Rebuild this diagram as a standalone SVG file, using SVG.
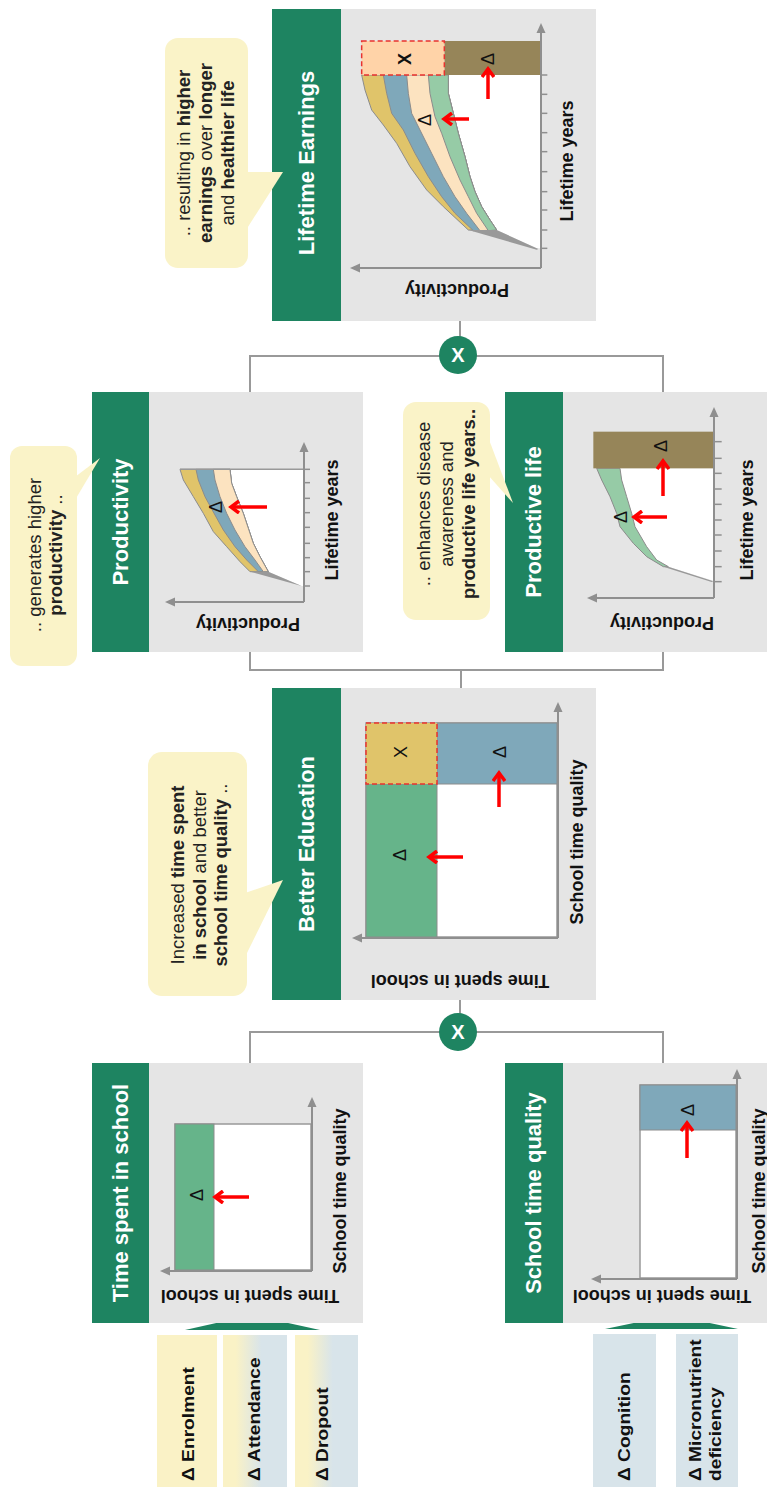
<svg xmlns="http://www.w3.org/2000/svg" width="767" height="1487" viewBox="0 0 767 1487">
<defs>
<style>
text{font-family:"Liberation Sans",Arial,sans-serif;}
.title{font-size:22px;font-weight:bold;fill:#fff;text-anchor:middle;}
.ax{font-size:18px;font-weight:bold;fill:#111;text-anchor:middle;}
.co{font-size:18.5px;fill:#222;text-anchor:middle;}
.inp{font-size:16px;font-weight:bold;fill:#111;}
.d{font-size:18px;fill:#111;text-anchor:middle;}
.bar{fill:#1E8461;}
.panel{fill:#E5E5E5;}
.callout{fill:#FAF3C8;}
.axis{stroke:#8f8f8f;stroke-width:2;fill:none;}
.band{stroke:#8c8c8c;stroke-width:1;vector-effect:non-scaling-stroke;}
.conn{stroke:#999;stroke-width:2;fill:none;}
.red{stroke:#F00;stroke-width:3.5;fill:none;}
.b{font-weight:bold;}
</style>
<marker id="ga" markerWidth="10" markerHeight="10" refX="1" refY="5" orient="auto" markerUnits="userSpaceOnUse"><path d="M0,0.5 L10,5 L0,9.5 Z" fill="#8f8f8f"/></marker>
<marker id="ra" markerWidth="14" markerHeight="14" refX="11" refY="7" orient="auto" markerUnits="userSpaceOnUse"><path d="M3,1 L11,7 L3,13" fill="none" stroke="#F00" stroke-width="3.5"/></marker>
<linearGradient id="yb" x1="0" y1="0" x2="1" y2="0"><stop offset="0" stop-color="#FAF2C6"/><stop offset="0.2" stop-color="#FAF2C6"/><stop offset="0.6" stop-color="#D8E4EA"/><stop offset="1" stop-color="#D8E4EA"/></linearGradient>
</defs>

<g id="connectors">
<path class="conn" d="M250,1063 V1032 H663 V1063"/>
<path class="conn" d="M460,1032 V1000"/>
<path class="conn" d="M461,688 V670"/>
<path class="conn" d="M250,652 V670 H663 V652"/>
<path class="conn" d="M250,392 V356 H663 V392"/>
<path class="conn" d="M460,356 V321"/>
<circle cx="458" cy="1032" r="19" fill="#1E8461"/>
<text x="458" y="1039" font-size="20" font-weight="bold" fill="#fff" text-anchor="middle">X</text>
<circle cx="458" cy="355" r="19" fill="#1E8461"/>
<text x="458" y="362" font-size="20" font-weight="bold" fill="#fff" text-anchor="middle">X</text>
</g>

<g id="inputs-time">
<polygon points="185,1330 252,1315 320,1330" fill="#1E8461"/>
<rect x="157" y="1335" width="60" height="152" fill="#FAF2C6"/>
<rect x="223" y="1335" width="64" height="152" fill="url(#yb)"/>
<rect x="295" y="1335" width="63" height="152" fill="url(#yb)"/>
<text class="inp" transform="translate(194,1481) rotate(-90) scale(1.2,1)">Δ Enrolment</text>
<text class="inp" transform="translate(260,1481) rotate(-90) scale(1.2,1)">Δ Attendance</text>
<text class="inp" transform="translate(328,1481) rotate(-90) scale(1.2,1)">Δ Dropout</text>
</g>

<g id="inputs-quality">
<polygon points="605,1329 672,1315 738,1329" fill="#1E8461"/>
<rect x="593" y="1334" width="63" height="153" fill="#D8E4EA"/>
<rect x="676" y="1334" width="62" height="153" fill="#D8E4EA"/>
<text class="inp" transform="translate(630,1481) rotate(-90) scale(1.2,1)">Δ Cognition</text>
<text class="inp" transform="translate(701,1481) rotate(-90) scale(1.2,1)">Δ Micronutrient</text>
<text class="inp" transform="translate(721,1481) rotate(-90) scale(1.2,1)">deficiency</text>
</g>

<g id="time-spent-in-school">
<rect class="panel" x="149" y="1063" width="214" height="260"/>
<rect class="bar" x="92" y="1063" width="57" height="260"/>
<text class="title" transform="translate(128,1193) rotate(-90)">Time spent in school</text>
<rect x="175" y="1124" width="136" height="146" fill="#fff" stroke="#999" stroke-width="1.5"/>
<rect x="175" y="1124" width="39" height="146" fill="#66B48A" stroke="#8c8c8c" stroke-width="1"/>
<path class="axis" d="M312,1271 V1106" marker-end="url(#ga)"/>
<path class="axis" d="M312,1271 H169" marker-end="url(#ga)"/>
<text class="d" transform="translate(203,1195) rotate(-90)">Δ</text>
<path class="red" d="M249,1197 H215" marker-end="url(#ra)"/>
<text class="ax" transform="translate(346,1191) rotate(-90)">School time quality</text>
<text class="ax" transform="translate(250,1290) rotate(180)">Time spent in school</text>
</g>

<g id="school-time-quality">
<rect class="panel" x="563" y="1063" width="214" height="260"/>
<rect class="bar" x="505" y="1063" width="58" height="260"/>
<text class="title" transform="translate(541,1193) rotate(-90)">School time quality</text>
<rect x="640" y="1085" width="96" height="193" fill="#fff" stroke="#999" stroke-width="1.5"/>
<rect x="640" y="1085" width="96" height="45" fill="#7FA8BA" stroke="#8c8c8c" stroke-width="1"/>
<path class="axis" d="M737,1279 V1078" marker-end="url(#ga)"/>
<path class="axis" d="M737,1279 H600" marker-end="url(#ga)"/>
<text class="d" transform="translate(694,1110) rotate(-90)">Δ</text>
<path class="red" d="M687,1158 V1123" marker-end="url(#ra)"/>
<text class="ax" transform="translate(765,1191) rotate(-90)">School time quality</text>
<text class="ax" transform="translate(662,1290) rotate(180)">Time spent in school</text>
</g>

<g id="better-education">
<rect class="panel" x="341" y="688" width="255" height="312"/>
<rect class="bar" x="272" y="688" width="69" height="312"/>
<text class="title" transform="translate(314,844) rotate(-90)">Better Education</text>
<rect x="366" y="723" width="191" height="214" fill="#fff" stroke="#999" stroke-width="1.5"/>
<rect x="366" y="784" width="71" height="153" fill="#66B48A" stroke="#8c8c8c" stroke-width="1"/>
<rect x="437" y="723" width="120" height="61" fill="#7FA8BA" stroke="#8c8c8c" stroke-width="1"/>
<rect x="366" y="723" width="71" height="61" fill="#E0C46A" stroke="#E8322F" stroke-width="1.5" stroke-dasharray="5,3"/>
<path class="axis" d="M558,938 V711" marker-end="url(#ga)"/>
<path class="axis" d="M558,938 H361" marker-end="url(#ga)"/>
<text class="d" transform="translate(406,855) rotate(-90)">Δ</text>
<text class="d" transform="translate(407,752) rotate(-90)">X</text>
<text class="d" transform="translate(506,752) rotate(-90)">Δ</text>
<path class="red" d="M463,857 H429" marker-end="url(#ra)"/>
<path class="red" d="M499,807 V773" marker-end="url(#ra)"/>
<text class="ax" transform="translate(583,842) rotate(-90)">School time quality</text>
<text class="ax" transform="translate(460,975) rotate(180)">Time spent in school</text>
</g>

<g id="callout-education">
<rect class="callout" x="148" y="752" width="99" height="244" rx="14"/>
<polygon class="callout" points="245,893 283,880 245,957"/>
<text class="co" transform="translate(184,875) rotate(-90)">Increased <tspan class="b">time spent</tspan></text>
<text class="co" transform="translate(206,875) rotate(-90)"><tspan class="b">in school</tspan> and better</text>
<text class="co" transform="translate(227,875) rotate(-90)"><tspan class="b">school time quality</tspan> ..</text>
</g>

<g id="productivity">
<rect class="panel" x="149" y="392" width="214" height="260"/>
<rect class="bar" x="92" y="392" width="57" height="260"/>
<text class="title" transform="translate(128,522) rotate(-90)">Productivity</text>
<g transform="translate(160,430) scale(0.33333)">
<polygon points="210,118 432,118 432,468 425,468 325,425 300,380 280,340 265,295 250,250 230,200 215,160" fill="#fff"/>
<polygon class="band" fill="#E0C46A" points="60,118 70,150 100,200 130,250 160,305 200,350 240,395 270,425 325,425 300,380 280,340 265,295 250,250 230,200 215,160 210,118"/>
<polygon class="band" fill="#7FA8BA" points="108,118 115,150 135,200 165,255 190,300 225,350 260,390 295,425 325,425 300,380 280,340 265,295 250,250 230,200 215,160 210,118"/>
<polygon class="band" fill="#FCE3C0" points="160,118 165,150 180,200 200,250 225,300 255,350 285,390 310,425 325,425 300,380 280,340 265,295 250,250 230,200 215,160 210,118"/>
<polygon points="270,425 325,425 425,468" fill="#999"/>
<line x1="60" y1="118" x2="432" y2="118" stroke="#999" stroke-width="4.5"/>
<g stroke="#8f8f8f" stroke-width="4.5">
<line x1="432" y1="118" x2="450" y2="118"/><line x1="432" y1="158" x2="450" y2="158"/><line x1="432" y1="205" x2="450" y2="205"/><line x1="432" y1="248" x2="450" y2="248"/><line x1="432" y1="292" x2="450" y2="292"/><line x1="432" y1="340" x2="450" y2="340"/><line x1="432" y1="383" x2="450" y2="383"/><line x1="432" y1="425" x2="450" y2="425"/><line x1="432" y1="468" x2="450" y2="468"/>
</g>
</g>
<path class="axis" d="M304,602 V451" marker-end="url(#ga)"/>
<path class="axis" d="M304,602 H174" marker-end="url(#ga)"/>
<text class="d" transform="translate(222,507) rotate(-90)">Δ</text>
<path class="red" d="M267,507 H231" marker-end="url(#ra)"/>
<text class="ax" transform="translate(338,520) rotate(-90)">Lifetime years</text>
<text class="ax" transform="translate(248,618) rotate(180)">Productivity</text>
</g>

<g id="callout-productivity">
<rect class="callout" x="10" y="446" width="67" height="220" rx="12"/>
<polygon class="callout" points="75,477 100,458 75,500"/>
<text class="co" transform="translate(41,555) rotate(-90)">.. generates higher</text>
<text class="co" transform="translate(62,555) rotate(-90)"><tspan class="b">productivity</tspan> ..</text>
</g>

<g id="productive-life">
<rect class="panel" x="563" y="392" width="214" height="260"/>
<rect class="bar" x="505" y="392" width="58" height="260"/>
<text class="title" transform="translate(541,522) rotate(-90)">Productive life</text>
<g transform="translate(380,340) scale(0.33333)">
<polygon points="720,385 1003,385 1003,722 1000,722 865,680 830,660 800,620 765,560 755,520 740,470 725,420" fill="#fff"/>
<polygon class="band" fill="#96CBA6" points="650,385 665,420 690,470 710,520 720,560 760,610 800,650 850,680 865,680 830,660 800,620 765,560 755,520 740,470 725,420 720,385"/>
<polygon points="850,680 865,680 1000,724 995,726" fill="#999"/>
<rect x="640" y="275" width="363" height="110" fill="#968559"/>
<g stroke="#8f8f8f" stroke-width="4.5">
<line x1="1003" y1="305" x2="1025" y2="305"/><line x1="1003" y1="355" x2="1025" y2="355"/><line x1="1003" y1="400" x2="1025" y2="400"/><line x1="1003" y1="447" x2="1025" y2="447"/><line x1="1003" y1="493" x2="1025" y2="493"/><line x1="1003" y1="540" x2="1025" y2="540"/><line x1="1003" y1="585" x2="1025" y2="585"/><line x1="1003" y1="633" x2="1025" y2="633"/><line x1="1003" y1="680" x2="1025" y2="680"/><line x1="1003" y1="725" x2="1025" y2="725"/>
</g>
</g>
<path class="axis" d="M714,598 V416" marker-end="url(#ga)"/>
<path class="axis" d="M714,598 H596" marker-end="url(#ga)"/>
<text class="d" transform="translate(627,517) rotate(-90)">Δ</text>
<text class="d" transform="translate(667,446) rotate(-90)">Δ</text>
<path class="red" d="M667,517 H634" marker-end="url(#ra)"/>
<path class="red" d="M663,496 V461" marker-end="url(#ra)"/>
<text class="ax" transform="translate(753,520) rotate(-90)">Lifetime years</text>
<text class="ax" transform="translate(662,617) rotate(180)">Productivity</text>
</g>

<g id="callout-productive-life">
<rect class="callout" x="403" y="402" width="87" height="218" rx="13"/>
<polygon class="callout" points="488,437 513,503 488,475"/>
<text class="co" transform="translate(430,504) rotate(-90)">.. enhances disease</text>
<text class="co" transform="translate(453,504) rotate(-90)">awareness and</text>
<text class="co" transform="translate(475,504) rotate(-90)"><tspan class="b">productive life years..</tspan></text>
</g>

<g id="lifetime-earnings">
<rect class="panel" x="341" y="9" width="255" height="312"/>
<rect class="bar" x="272" y="9" width="69" height="312"/>
<text class="title" transform="translate(314,163) rotate(-90)">Lifetime Earnings</text>
<g transform="translate(340,10) scale(0.33333)">
<polygon points="325,195 603,195 603,715 590,715 470,660 450,630 425,590 405,545 390,500 375,440 355,370 340,310 325,250" fill="#fff"/>
<polygon class="band" fill="#E0C46A" points="65,195 75,240 95,300 130,345 170,400 210,470 260,540 310,590 385,660 470,660 450,630 425,590 405,545 390,500 375,440 355,370 340,310 325,250 325,195"/>
<polygon class="band" fill="#7FA8BA" points="130,195 140,250 155,310 190,360 225,430 265,500 305,560 345,610 400,662 470,660 450,630 425,590 405,545 390,500 375,440 355,370 340,310 325,250 325,195"/>
<polygon class="band" fill="#FCE3C0" points="200,195 205,250 215,310 240,360 275,430 310,500 345,560 380,610 420,662 470,660 450,630 425,590 405,545 390,500 375,440 355,370 340,310 325,250 325,195"/>
<polygon class="band" fill="#96CBA6" points="265,195 270,250 285,320 305,370 330,440 360,510 385,560 410,610 445,662 470,660 450,630 425,590 405,545 390,500 375,440 355,370 340,310 325,250 325,195"/>
<polygon points="385,660 470,660 595,717 590,719" fill="#999"/>
<rect x="313" y="93" width="290" height="102" fill="#968559"/>
<rect x="65" y="93" width="248" height="102" fill="#FFD3A8" stroke="#E8322F" stroke-width="4.5" stroke-dasharray="15,9"/>
<g stroke="#8f8f8f" stroke-width="4.5">
<line x1="603" y1="195" x2="622" y2="195"/><line x1="603" y1="253" x2="622" y2="253"/><line x1="603" y1="310" x2="622" y2="310"/><line x1="603" y1="368" x2="622" y2="368"/><line x1="603" y1="425" x2="622" y2="425"/><line x1="603" y1="485" x2="622" y2="485"/><line x1="603" y1="545" x2="622" y2="545"/><line x1="603" y1="600" x2="622" y2="600"/><line x1="603" y1="660" x2="622" y2="660"/><line x1="603" y1="715" x2="622" y2="715"/>
</g>
</g>
<path class="axis" d="M541,268 V32" marker-end="url(#ga)"/>
<path class="axis" d="M541,268 H359" marker-end="url(#ga)"/>
<text class="d" transform="translate(431,120) rotate(-90)">Δ</text>
<text class="d" transform="translate(494,59) rotate(-90)">Δ</text>
<text class="d" font-weight="bold" transform="translate(411,59) rotate(-90)">X</text>
<path class="red" d="M469,119 H444" marker-end="url(#ra)"/>
<path class="red" d="M488,99 V69" marker-end="url(#ra)"/>
<text class="ax" transform="translate(573,161) rotate(-90)">Lifetime years</text>
<text class="ax" transform="translate(457,284) rotate(180)">Productivity</text>
</g>

<g id="callout-earnings">
<rect class="callout" x="165" y="38" width="83" height="230" rx="13"/>
<polygon class="callout" points="246,172 283,172 246,230"/>
<text class="co" transform="translate(190,153) rotate(-90)">.. resulting in <tspan class="b">higher</tspan></text>
<text class="co" transform="translate(212,153) rotate(-90)"><tspan class="b">earnings</tspan> over <tspan class="b">longer</tspan></text>
<text class="co" transform="translate(234,153) rotate(-90)">and <tspan class="b">healthier life</tspan></text>
</g>
</svg>
